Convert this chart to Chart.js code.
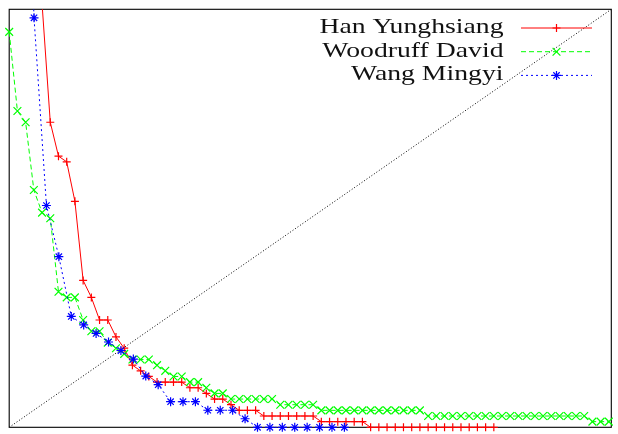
<!DOCTYPE html>
<html>
<head>
<meta charset="utf-8">
<script src="https://cdn.jsdelivr.net/npm/chart.js@4"></script>
<style>
  html, body { margin: 0; padding: 0; background: #fff; }
  #wrap { width: 618px; height: 434px; }
</style>
</head>
<body>
<div id="wrap"><canvas id="chart" width="618" height="434"></canvas></div>
<script>
// Series labels
const seriesNames = ['Han Yunghsiang', 'Woodruff David', 'Wang Mingyi'];

// Counts per rank, null = above the top of the plot
const hanCounts = [null, null, null, null, 75, 54, 48, 47, 40, 26, 23, 19, 19, 16, 14, 11, 10, 9,
  8, 8, 8, 8, 7, 7, 6, 5, 5, 4, 3, 3, 3,
  2, 2, 2, 2, 2, 2, 2, 1, 1, 1, 1, 1, 1,
  0, 0, 0, 0, 0, 0, 0, 0, 0, 0, 0, 0, 0, 0, 0, 0];
const woodruffCounts = [70, 56, 54, 42, 38, 37, 24, 23, 23, 19, 17, 17, 15, 14, 13, 12, 12, 12,
  11, 10, 9, 9, 8, 8, 7, 6, 6, 5, 5, 5, 5, 5, 5, 4, 4, 4, 4, 4,
  3, 3, 3, 3, 3, 3, 3, 3, 3, 3, 3, 3, 3,
  2, 2, 2, 2, 2, 2, 2, 2, 2, 2, 2, 2, 2, 2, 2, 2, 2, 2, 2, 2,
  1, 1, 1];
const wangCounts = [null, 90, 48, 26, 20, 13, 12, 11, 10, 9, 8, 6, 5, 3, 3, 3, 2, 2, 2, 1,
  0, 0, 0, 0, 0, 0, 0, 0];

// Axis ranges (the first two series share one scale, the third is normalised on its own)
const mainRangeX = [0, 73.3];
const mainRangeY = [0, 74];
const wangRangeX = [0, 48.5];
const wangRangeY = [0, 49];

const colors = ['#ff0000', '#00ff00', '#0000ff'];

function toPoints(counts) {
  return counts.map((v, i) => ({ x: i, y: v }));
}

// Clip only at the top, so markers on the left/bottom border stay whole
const clipTop = { left: false, top: 0, right: false, bottom: false };

// Frame around the plot area
const framePlugin = {
  id: 'frame',
  beforeDatasetsDraw(chart) {
    const { ctx, chartArea: a } = chart;
    ctx.save();
    ctx.strokeStyle = '#000';
    ctx.lineWidth = 1.1;
    ctx.strokeRect(a.left, a.top, a.right - a.left, a.bottom - a.top);
    ctx.restore();
  }
};

// gnuplot style key: right aligned text, sample line with marker to the right
const keyPlugin = {
  id: 'key',
  afterDraw(chart) {
    const ctx = chart.ctx;
    for (let k = 0; k < 3; k++) {
      const ds = chart.data.datasets[k];
      const base = 33 + k * 23.7;
      ctx.save();
      ctx.font = '22px "Liberation Serif"';
      ctx.fillStyle = '#111';
      ctx.textAlign = 'right';
      ctx.textBaseline = 'alphabetic';
      ctx.translate(503.5, base);
      ctx.scale(1.26, 1);
      ctx.fillText(ds.label, 0, 0);
      ctx.restore();

      const ly = base - 5;
      ctx.save();
      ctx.strokeStyle = ds.borderColor;
      ctx.lineWidth = 1;
      ctx.setLineDash(ds.borderDash || []);
      ctx.beginPath();
      ctx.moveTo(521, ly);
      ctx.lineTo(592, ly);
      ctx.stroke();
      ctx.setLineDash([]);
      ctx.lineWidth = ds.pointBorderWidth;
      Chart.helpers.drawPoint(ctx, {
        pointStyle: ds.pointStyle, radius: ds.pointRadius, borderWidth: ds.pointBorderWidth, rotation: 0
      }, 556.5, ly);
      ctx.restore();
    }
  }
};

const ctx = document.getElementById('chart');
new Chart(ctx, {
  type: 'scatter',
  data: {
    datasets: [
      {
        label: seriesNames[0], data: toPoints(hanCounts), xAxisID: 'x', yAxisID: 'y',
        showLine: true, borderColor: colors[0], borderWidth: 1, backgroundColor: colors[0],
        pointStyle: 'cross', pointRadius: 4, pointBorderWidth: 1.2, pointBorderColor: colors[0],
        clip: clipTop, order: 2
      },
      {
        label: seriesNames[1], data: toPoints(woodruffCounts), xAxisID: 'x', yAxisID: 'y',
        showLine: true, borderColor: colors[1], borderWidth: 1, borderDash: [5, 3], backgroundColor: colors[1],
        pointStyle: 'crossRot', pointRadius: 5.5, pointBorderWidth: 1.2, pointBorderColor: colors[1],
        clip: clipTop, order: 1
      },
      {
        label: seriesNames[2], data: toPoints(wangCounts), xAxisID: 'xb', yAxisID: 'yb',
        showLine: true, borderColor: colors[2], borderWidth: 1, borderDash: [2, 3], backgroundColor: colors[2],
        pointStyle: 'star', pointRadius: 4.5, pointBorderWidth: 1.2, pointBorderColor: colors[2],
        clip: clipTop, order: 0
      },
      {
        // y = x reference diagonal, corner to corner
        label: 'diagonal',
        data: [{ x: mainRangeX[0], y: mainRangeY[0] }, { x: mainRangeX[1], y: mainRangeY[1] }],
        xAxisID: 'x', yAxisID: 'y',
        showLine: true, borderColor: '#000', borderWidth: 1, borderDash: [1, 2],
        pointRadius: 0, order: 3
      }
    ]
  },
  options: {
    responsive: false,
    animation: false,
    devicePixelRatio: 1,
    layout: { padding: { left: 9.2, top: 9.3, right: 0, bottom: 3.2 } },
    plugins: { legend: { display: false }, tooltip: { enabled: false } },
    scales: {
      x:  { type: 'linear', display: false, min: mainRangeX[0], max: mainRangeX[1] },
      y:  { type: 'linear', display: false, min: mainRangeY[0], max: mainRangeY[1] },
      xb: { type: 'linear', axis: 'x', display: false, min: wangRangeX[0], max: wangRangeX[1] },
      yb: { type: 'linear', axis: 'y', display: false, min: wangRangeY[0], max: wangRangeY[1] }
    }
  },
  plugins: [framePlugin, keyPlugin]
});
</script>
</body>
</html>
